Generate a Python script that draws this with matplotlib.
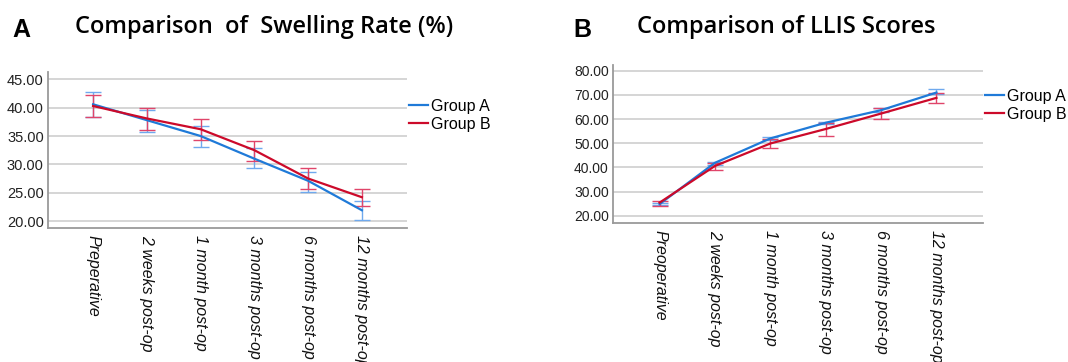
import matplotlib
matplotlib.use("Agg")
import matplotlib.pyplot as plt
import numpy as np

timepoints = ["Preperative", "2 weeks post-op", "1 month post-op",
              "3 months post-op", "6 months post-op", "12 months post-op"]
timepoints_b = ["Preoperative", "2 weeks post-op", "1 month post-op",
                "3 months post-op", "6 months post-op", "12 months post-op"]

# Panel A: swelling rate (%)
swell_a_mean = [40.6, 37.8, 35.0, 31.0, 27.1, 21.9]
swell_a_low = [38.4, 35.7, 33.1, 29.4, 25.2, 20.1]
swell_a_high = [42.7, 39.6, 36.8, 32.8, 28.7, 23.5]
swell_b_mean = [40.3, 38.1, 36.2, 32.5, 27.5, 24.2]
swell_b_low = [38.4, 36.0, 34.3, 30.6, 25.7, 22.7]
swell_b_high = [42.2, 39.9, 38.0, 34.2, 29.3, 25.6]

# Panel B: LLIS scores
llis_a_mean = [24.8, 41.9, 52.0, 58.5, 63.7, 71.0]
llis_a_low = [24.4, 41.2, 51.3, 57.9, 63.0, 70.2]
llis_a_high = [25.3, 42.3, 52.5, 58.9, 64.4, 72.4]
llis_b_mean = [25.4, 40.6, 49.9, 55.9, 62.3, 68.8]
llis_b_low = [24.0, 38.9, 48.1, 53.0, 59.9, 66.8]
llis_b_high = [26.2, 42.0, 51.6, 58.2, 64.4, 71.0]

yticks_a = [20, 25, 30, 35, 40, 45]
yticks_b = [20, 30, 40, 50, 60, 70, 80]

BLUE = "#1f7ad8"
RED = "#cc0a2a"
BLUE_E = "#6fa9ee"
RED_E = "#e0456a"

plt.rcParams['font.family'] = ['Liberation Sans', 'DejaVu Sans']

fig = plt.figure(figsize=(10.68, 3.62), dpi=100)
axA = fig.add_axes([0.0449, 0.3702, 0.3362, 0.4309])
axB = fig.add_axes([0.574, 0.3848, 0.3464, 0.4356])


def draw(ax, labels, am, al, ah, bm, bl, bh, yticks, ylim, fs_y, leg_y):
    x = np.arange(len(labels))
    am, al, ah = map(np.array, (am, al, ah))
    bm, bl, bh = map(np.array, (bm, bl, bh))
    ax.errorbar(x, am, yerr=[am - al, ah - am], fmt='none', ecolor=BLUE_E,
                elinewidth=1.0, capsize=6, capthick=1.0, zorder=3)
    ax.errorbar(x, bm, yerr=[bm - bl, bh - bm], fmt='none', ecolor=RED_E,
                elinewidth=1.0, capsize=6, capthick=1.0, zorder=3)
    ax.plot(x, am, color=BLUE, lw=1.6, label="Group A", zorder=4)
    ax.plot(x, bm, color=RED, lw=1.6, label="Group B", zorder=5)
    ax.set_xlim(-0.84, len(labels) - 1 + 0.84)
    ax.set_ylim(*ylim)
    ax.set_yticks(yticks)
    ax.set_yticklabels([f"{v:.2f}" for v in yticks], fontsize=fs_y, color="#222222")
    ax.set_xticks(x)
    ax.set_xticklabels(labels, rotation=270, fontsize=11.5, style='italic',
                       ha='center', va='top', color="#111111")
    ax.tick_params(axis='both', length=0, pad=3)
    ax.tick_params(axis='x', pad=5)
    ax.grid(axis='y', color="#d2d2d2", lw=1.3)
    ax.set_axisbelow(True)
    for s in ("top", "right"):
        ax.spines[s].set_visible(False)
    ax.spines["left"].set_color("#9a9a9a")
    ax.spines["bottom"].set_color("#9a9a9a")
    ax.spines["left"].set_linewidth(1.3)
    ax.spines["bottom"].set_linewidth(1.3)
    leg = ax.legend(loc='upper left', bbox_to_anchor=(1.0, leg_y), frameon=False,
                    fontsize=11.5, handlelength=1.2, handletextpad=0.2,
                    labelspacing=0.2, borderaxespad=0.0, borderpad=0.1)
    return leg


draw(axA, timepoints, swell_a_mean, swell_a_low, swell_a_high,
     swell_b_mean, swell_b_low, swell_b_high, yticks_a, (18.77, 46.3), 10.5, 0.84)
draw(axB, timepoints_b, llis_a_mean, llis_a_low, llis_a_high,
     llis_b_mean, llis_b_low, llis_b_high, yticks_b, (17.1, 82.4), 10, 0.86)

title_font = ['Open Sans', 'DejaVu Sans']
fig.text(12 / 1068, 1 - 30 / 362, "A", fontsize=18, fontweight='bold',
         va='center', ha='left')
fig.text(75 / 1068, 1 - 27 / 362, "Comparison  of  Swelling Rate (%)",
         fontsize=17, fontweight='semibold', family=title_font,
         va='center', ha='left')
fig.text(573 / 1068, 1 - 30 / 362, "B", fontsize=18, fontweight='bold',
         va='center', ha='left')
fig.text(637 / 1068, 1 - 27 / 362, "Comparison of LLIS Scores",
         fontsize=17, fontweight='semibold', family=title_font,
         va='center', ha='left')

fig.savefig("out.png", dpi=100)
